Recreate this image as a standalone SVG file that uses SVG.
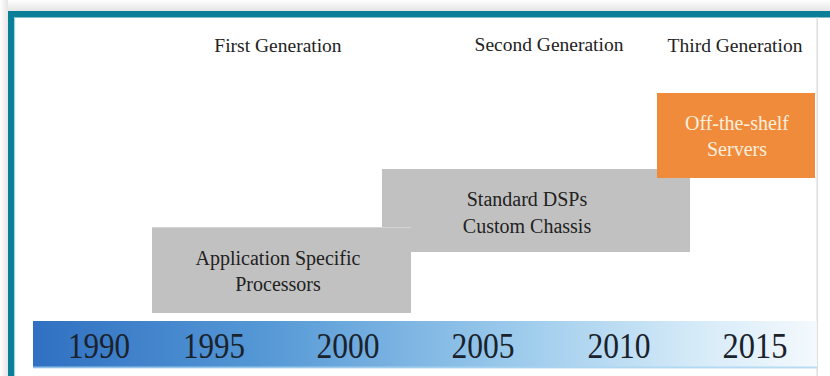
<svg xmlns="http://www.w3.org/2000/svg" width="830" height="376" viewBox="0 0 830 376">
<defs>
<linearGradient id="band" x1="0" y1="0" x2="1" y2="0">
<stop offset="0" stop-color="#3070c2"/>
<stop offset="0.3" stop-color="#5699d6"/>
<stop offset="0.6" stop-color="#98c8eb"/>
<stop offset="0.85" stop-color="#d6ebf8"/>
<stop offset="1" stop-color="#f4f9fd"/>
</linearGradient>
<linearGradient id="shTop" x1="0" y1="0" x2="0" y2="1">
<stop offset="0" stop-color="#ffffff"/>
<stop offset="1" stop-color="#e4e4e4"/>
</linearGradient>
<linearGradient id="shLeft" x1="0" y1="0" x2="1" y2="0">
<stop offset="0" stop-color="#ffffff"/>
<stop offset="1" stop-color="#e4e4e4"/>
</linearGradient>
<style>
.lbl{font-family:"Liberation Serif",serif;font-size:19.5px;fill:#222;text-anchor:middle}
.box{font-family:"Liberation Serif",serif;font-size:20px;fill:#222;text-anchor:middle}
.yr{font-family:"Liberation Serif",serif;font-size:35px;fill:#1a222c;text-anchor:middle}
.gray{fill:#c1c1c1}
</style>
</defs>
<rect x="0" y="0" width="830" height="376" fill="#ffffff"/>
<rect x="0" y="0" width="830" height="11" fill="url(#shTop)"/>
<rect x="0" y="0" width="8" height="376" fill="url(#shLeft)"/>
<rect x="8" y="11" width="822" height="6.5" fill="#0b7f98"/>
<rect x="8" y="11" width="6" height="365" fill="#0b7f98"/>
<rect x="14" y="17.5" width="1.2" height="358.5" fill="#a6d6df"/>
<rect x="816.5" y="17.5" width="1.5" height="358.5" fill="#dedede"/>

<g id="gen-labels">
<text class="lbl" x="278" y="52">First Generation</text>
<text class="lbl" x="549" y="51">Second Generation</text>
<text class="lbl" x="735" y="52">Third Generation</text>
</g>

<g id="node-dsp">
<rect class="gray" x="382" y="169" width="308" height="83"/>
<text class="box" x="527" y="206">Standard DSPs</text>
<text class="box" x="527" y="233">Custom Chassis</text>
</g>

<g id="node-app">
<rect class="gray" x="152" y="227" width="259" height="86"/>
<rect x="152" y="227" width="259" height="1" fill="#d4d4d4"/>
<text class="box" x="278" y="265">Application Specific</text>
<text class="box" x="278" y="291">Processors</text>
</g>

<g id="node-servers">
<rect x="657" y="93" width="158" height="85" fill="#f08b3c"/>
<text class="box" x="737" y="130" style="fill:#fcefdc">Off-the-shelf</text>
<text class="box" x="737" y="156" style="fill:#fcefdc">Servers</text>
</g>

<g id="timeline">
<rect x="33" y="321" width="784" height="47" fill="url(#band)"/>
<rect x="33" y="366.5" width="784" height="2" fill="#a9d5f0" opacity="0.8"/>
<text class="yr" x="99" y="358" textLength="62" lengthAdjust="spacingAndGlyphs">1990</text>
<text class="yr" x="214" y="358" textLength="62" lengthAdjust="spacingAndGlyphs">1995</text>
<text class="yr" x="348" y="358" textLength="63" lengthAdjust="spacingAndGlyphs">2000</text>
<text class="yr" x="483" y="358" textLength="63" lengthAdjust="spacingAndGlyphs">2005</text>
<text class="yr" x="619" y="358" textLength="63" lengthAdjust="spacingAndGlyphs">2010</text>
<text class="yr" x="755" y="358" textLength="65" lengthAdjust="spacingAndGlyphs">2015</text>
</g>

<g id="connectors"></g>
</svg>
